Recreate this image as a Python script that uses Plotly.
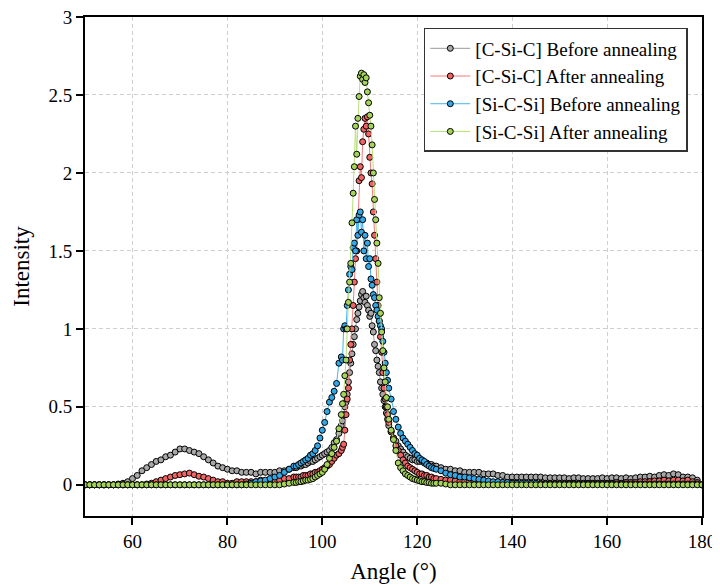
import plotly.graph_objects as go

# ---------------- data ----------------
ANGLE = [
    50, 51, 52, 53, 54, 55, 56, 57, 58, 59,
    60, 61, 62, 63, 64, 65, 66, 67, 68, 69,
    70, 71, 72, 73, 74, 75, 76, 77, 78, 79,
    80, 81, 82, 83, 84, 85, 86, 87, 88, 89,
    90, 91, 92, 93, 94,
    94.5, 95, 95.5, 96, 96.5, 97, 97.5, 98, 98.5, 99,
    99.5, 100, 100.5, 101, 101.5, 102, 102.5, 103, 103.5,
    104, 104.25, 104.5, 104.75, 105, 105.25, 105.5, 105.75, 106, 106.25,
    106.5, 106.75, 107, 107.25, 107.5, 107.75, 108, 108.25, 108.5, 108.75,
    109, 109.25, 109.5, 109.75, 110, 110.25, 110.5, 110.75, 111, 111.25,
    111.5, 111.75, 112, 112.25, 112.5, 112.75, 113, 113.25, 113.5, 113.75,
    114,
    114.5, 115, 115.5, 116, 116.5, 117, 117.5, 118, 118.5, 119,
    119.5, 120, 120.5, 121, 121.5, 122, 122.5, 123, 123.5, 124,
    125, 126, 127, 128, 129, 130, 131, 132, 133, 134,
    135, 136, 137, 138, 139, 140, 141, 142, 143, 144,
    145, 146, 147, 148, 149, 150, 151, 152, 153, 154,
    155, 156, 157, 158, 159, 160, 161, 162, 163, 164,
    165, 166, 167, 168, 169, 170, 171, 172, 173, 174,
    175, 176, 177, 178, 179, 180,
]

CSIC_BEFORE = [
    0, 0, 0, 0, 0, 0, 0, 0.005, 0.01, 0.02,
    0.04, 0.06, 0.09, 0.11, 0.13, 0.15, 0.16, 0.18, 0.19, 0.21,
    0.23, 0.23, 0.22, 0.21, 0.20, 0.18, 0.16, 0.14, 0.12, 0.11,
    0.10, 0.09, 0.09, 0.08, 0.08, 0.08, 0.07, 0.08, 0.08, 0.08,
    0.08, 0.09, 0.09, 0.10, 0.11,
    0.11, 0.12, 0.12, 0.13, 0.13, 0.14, 0.15, 0.15, 0.16, 0.17,
    0.18, 0.19, 0.20, 0.21, 0.22, 0.24, 0.27, 0.29, 0.33,
    0.38, 0.41, 0.45, 0.50, 0.53, 0.58, 0.66, 0.72, 0.78, 0.84,
    0.90, 0.95, 1.00, 1.06, 1.10, 1.14, 1.18, 1.22, 1.24, 1.20,
    1.17, 1.21, 1.15, 1.12, 1.08, 1.10, 1.02, 0.98, 0.90, 0.86,
    0.80, 0.76, 0.72, 0.66, 0.62, 0.58, 0.54, 0.50, 0.46, 0.42,
    0.38,
    0.34, 0.30, 0.28, 0.25, 0.23, 0.21, 0.19, 0.18, 0.17, 0.16,
    0.16, 0.15, 0.15, 0.15, 0.14, 0.14, 0.13, 0.13, 0.12, 0.12,
    0.11, 0.10, 0.10, 0.09, 0.09, 0.08, 0.08, 0.08, 0.08, 0.07,
    0.07, 0.07, 0.06, 0.06, 0.05, 0.05, 0.05, 0.05, 0.05, 0.05,
    0.05, 0.05, 0.045, 0.045, 0.045, 0.045, 0.045, 0.04, 0.045, 0.045,
    0.04, 0.04, 0.04, 0.04, 0.045, 0.04, 0.045, 0.045, 0.04, 0.045,
    0.04, 0.045, 0.05, 0.05, 0.055, 0.05, 0.06, 0.065, 0.06, 0.07,
    0.065, 0.05, 0.05, 0.045, 0.03, 0.0,
]

CSIC_AFTER = [
    0, 0, 0, 0, 0, 0, 0, 0, 0, 0,
    0, 0, 0, 0.005, 0.01, 0.02, 0.03, 0.04, 0.05, 0.06,
    0.065, 0.07, 0.075, 0.065, 0.055, 0.05, 0.04, 0.03, 0.02, 0.02,
    0.01, 0.01, 0.02, 0.02, 0.02, 0.02, 0.02, 0.03, 0.02, 0.03,
    0.03, 0.03, 0.04, 0.04, 0.05,
    0.05, 0.05, 0.05, 0.06, 0.06, 0.06, 0.07, 0.07, 0.08, 0.08,
    0.09, 0.10, 0.11, 0.12, 0.13, 0.15, 0.17, 0.19, 0.20,
    0.22, 0.24, 0.26, 0.35, 0.45, 0.55, 0.62, 0.80, 0.90, 1.00,
    1.15, 1.30, 1.45, 1.50, 1.70, 1.95, 2.04, 1.97, 2.20, 2.28,
    2.35, 2.30, 2.36, 2.25, 2.10, 2.00, 1.93, 1.75, 1.60, 1.45,
    1.30, 1.15, 1.05, 0.95, 0.85, 0.72, 0.62, 0.55, 0.50, 0.45,
    0.40,
    0.34, 0.30, 0.25, 0.22, 0.19, 0.16, 0.14, 0.12, 0.11, 0.10,
    0.09, 0.08, 0.07, 0.07, 0.06, 0.06, 0.05, 0.05, 0.04, 0.04,
    0.035, 0.03, 0.03, 0.025, 0.025, 0.02, 0.02, 0.02, 0.02, 0.015,
    0.015, 0.015, 0.015, 0.015, 0.01, 0.015, 0.01, 0.01, 0.01, 0.01,
    0.01, 0.01, 0.01, 0.01, 0.01, 0.01, 0.01, 0.01, 0.01, 0.01,
    0.01, 0.01, 0.01, 0.01, 0.01, 0.01, 0.01, 0.015, 0.01, 0.015,
    0.015, 0.015, 0.02, 0.02, 0.02, 0.025, 0.025, 0.03, 0.025, 0.03,
    0.03, 0.025, 0.03, 0.02, 0.015, 0.0,
]

SICSI_BEFORE = [
    0, 0, 0, 0, 0, 0, 0, 0, 0, 0,
    0, 0, 0, 0, 0, 0, 0, 0, 0, 0,
    0, 0, 0, 0, 0, 0, 0, 0, 0, 0,
    0, 0, 0, 0, 0.005, 0.01, 0.02, 0.025, 0.03, 0.04,
    0.05, 0.06, 0.08, 0.10, 0.12,
    0.12, 0.13, 0.14, 0.15, 0.16, 0.17, 0.19, 0.20, 0.22, 0.25,
    0.30, 0.35, 0.40, 0.47, 0.53, 0.56, 0.60, 0.65, 0.78,
    0.82, 0.80, 1.00, 1.02, 1.00, 1.15, 1.25, 1.35, 1.40, 1.38,
    1.52, 1.55, 1.50, 1.70, 1.60, 1.73, 1.75, 1.62, 1.70, 1.50,
    1.60, 1.45, 1.55, 1.40, 1.45, 1.32, 1.28, 1.22, 1.20, 1.15,
    1.12, 1.08, 1.05, 1.02, 1.00, 0.92, 0.85, 0.78, 0.72, 0.67,
    0.62,
    0.55, 0.47, 0.42, 0.37, 0.33, 0.30, 0.28, 0.26, 0.24, 0.22,
    0.20, 0.19, 0.17, 0.16, 0.15, 0.13, 0.12, 0.11, 0.105, 0.10,
    0.09, 0.075, 0.065, 0.06, 0.05, 0.05, 0.045, 0.04, 0.035, 0.03,
    0.025, 0.02, 0.02, 0.015, 0.015, 0.01, 0.01, 0.01, 0.01, 0.01,
    0.01, 0.005, 0.005, 0.005, 0.005, 0.005, 0.005, 0.005, 0.005, 0.005,
    0.005, 0.005, 0.005, 0.005, 0.005, 0.005, 0.005, 0.005, 0.005, 0.005,
    0.005, 0.005, 0.005, 0.005, 0.005, 0.005, 0.005, 0.005, 0.005, 0.005,
    0.005, 0.005, 0.005, 0.005, 0.005, 0.0,
]

SICSI_AFTER = [
    0, 0, 0, 0, 0, 0, 0, 0, 0, 0,
    0, 0, 0, 0, 0, 0, 0, 0, 0, 0,
    0, 0, 0, 0, 0, 0, 0, 0, 0, 0,
    0, 0, 0, 0, 0, 0, 0, 0, 0, 0,
    0, 0, 0.005, 0.01, 0.015,
    0.015, 0.02, 0.02, 0.025, 0.03, 0.03, 0.035, 0.04, 0.05, 0.06,
    0.07, 0.08, 0.10, 0.13, 0.17, 0.20, 0.24, 0.28, 0.36,
    0.45, 0.52, 0.58, 0.70, 0.80, 1.00, 1.17, 1.30, 1.42, 1.68,
    1.87, 2.04, 2.30, 2.12, 2.35, 2.49, 2.62, 2.64, 2.60, 2.63,
    2.58, 2.61, 2.52, 2.45, 2.37, 2.30, 2.18, 2.00, 1.83, 1.70,
    1.55, 1.42, 1.20, 1.10, 0.98, 0.86, 0.75, 0.66, 0.56, 0.50,
    0.42,
    0.35, 0.29, 0.22, 0.14, 0.11, 0.09, 0.07, 0.06, 0.05, 0.04,
    0.035, 0.03, 0.025, 0.02, 0.02, 0.015, 0.015, 0.01, 0.01, 0.01,
    0.01, 0.005, 0, 0, 0, 0, 0, 0, 0, 0,
    0, 0, 0, 0, 0, 0, 0, 0, 0, 0,
    0, 0, 0, 0, 0, 0, 0, 0, 0, 0,
    0, 0, 0, 0, 0, 0, 0, 0, 0, 0,
    0, 0, 0, 0, 0, 0, 0, 0, 0, 0,
    0, 0, 0, 0, 0, 0,
]

SERIES_NAMES = [
    "[C-Si-C] Before annealing",
    "[C-Si-C] After annealing",
    "[Si-C-Si] Before annealing",
    "[Si-C-Si] After annealing",
]

Y_TICKS = [0, 0.5, 1, 1.5, 2, 2.5, 3]
Y_TICK_TEXT = ["0", "0.5", "1", "1.5", "2", "2.5", "3"]
X_TICKS = [60, 80, 100, 120, 140, 160, 180]

# ---------------- styling ----------------
LINE_COLORS = ["#9a9a9a", "#f47a7a", "#45b4ee", "#b8e07a"]
MARKER_COLORS = ["#a8a8a8", "#f06464", "#33a6e6", "#a6d45a"]
FONT = "'Liberation Serif', 'Times New Roman', Times, serif"

fig = go.Figure()
for name, ys, lc, mc in zip(
    SERIES_NAMES,
    [CSIC_BEFORE, CSIC_AFTER, SICSI_BEFORE, SICSI_AFTER],
    LINE_COLORS,
    MARKER_COLORS,
):
    fig.add_trace(
        go.Scatter(
            x=ANGLE,
            y=ys,
            mode="lines+markers",
            name=name,
            line=dict(color=lc, width=1),
            marker=dict(size=6, color=mc, line=dict(color="black", width=1)),
        )
    )

axis_common = dict(
    showgrid=True,
    gridcolor="#cfcfcf",
    gridwidth=1,
    griddash="4px,3px",
    showline=True,
    linecolor="black",
    linewidth=2,
    mirror=True,
    ticks="outside",
    ticklen=7,
    tickwidth=1.5,
    tickcolor="black",
    zeroline=False,
    automargin=False,
    ticklabeloverflow="allow",
    tickfont=dict(family=FONT, size=19, color="black"),
)

# The page body adds an 8px offset, so the figure is sized to fill the rest of the window.
fig.update_layout(
    width=712,
    height=577,
    margin=dict(l=77, r=18, t=9, b=69),
    paper_bgcolor="white",
    plot_bgcolor="white",
    font=dict(family=FONT, size=19, color="black"),
    xaxis=dict(
        range=[50, 180],
        tickvals=X_TICKS,
        title=dict(text="Angle (°)", font=dict(family=FONT, size=23), standoff=12),
        **axis_common,
    ),
    yaxis=dict(
        range=[-0.2, 3],
        tickvals=Y_TICKS,
        ticktext=Y_TICK_TEXT,
        title=dict(text="Intensity", font=dict(family=FONT, size=23), standoff=12),
        **axis_common,
    ),
    legend=dict(
        x=0.977,
        xanchor="right",
        y=0.978,
        yanchor="top",
        bgcolor="white",
        bordercolor="#333333",
        borderwidth=1.5,
        font=dict(family=FONT, size=19, color="black"),
        tracegroupgap=0,
        itemwidth=40,
    ),
    showlegend=True,
)

fig.write_html("out.html")
